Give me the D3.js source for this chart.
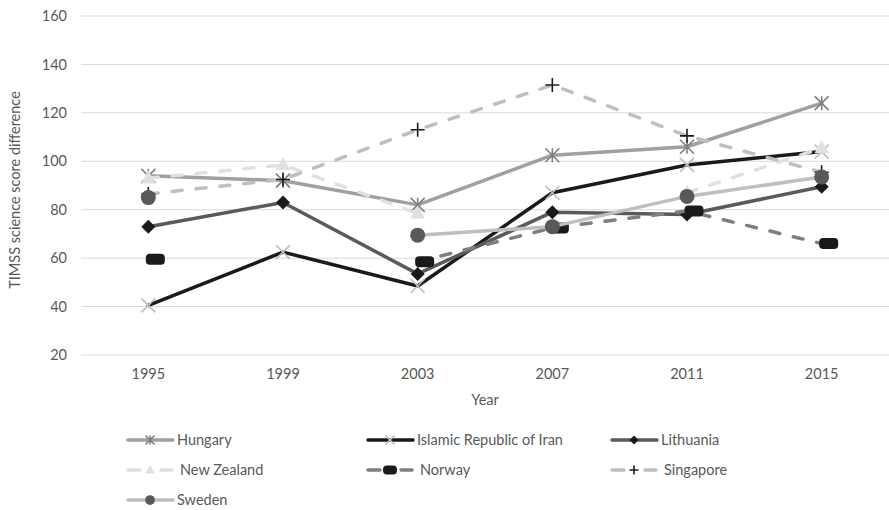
<!DOCTYPE html>
<html><head><meta charset="utf-8">
<script src="https://cdn.jsdelivr.net/npm/d3@7"></script>
<style>body{margin:0;background:#fff;} text{font-family:Lato,sans-serif;}</style>
</head><body>
<svg id="c" width="889" height="510"></svg>
<script>
const years = ["1995","1999","2003","2007","2011","2015"];
const yTicks = [20,40,60,80,100,120,140,160];
const hungary   = [94, 92, 82, 102.5, 106, 124];
const iran      = [40.5, 62.5, 48.5, 87, 98.5, 104];
const lithuania = [73, 83, 53.5, 79, 78, 89.5];
const newZealand= [93, 98.5, 78.5, null, 87, 105.5];
const norway    = [59.5, null, 58.5, 72.5, 79.5, 66];
const singapore = [86.5, 92.5, 113, 131.5, 110.5, 95.5];
const sweden    = [85, null, 69.5, 73, 85.5, 93.5];
const seriesNames = ["Hungary","Islamic Republic of Iran","Lithuania","New Zealand","Norway","Singapore","Sweden"];
const seriesValues = [hungary, iran, lithuania, newZealand, norway, singapore, sweden];

const FONT = "Lato,sans-serif";
const FS = 14.5;
const TC = "#595959";
const styles = [
  {line:"#a0a0a0", dash:null, marker:"star", mc:"#7f7f7f"},
  {line:"#1a1a1a", dash:null, marker:"x", mc:"#bfbfbf"},
  {line:"#5a5a5a", dash:null, marker:"diamond", mc:"#1a1a1a"},
  {line:"#e0e0e0", dash:"10,14", marker:"triangle", mc:"#e0e0e0"},
  {line:"#7f7f7f", dash:"10,14", marker:"rect", mc:"#1a1a1a"},
  {line:"#bfbfbf", dash:"10,14", marker:"plus", mc:"#1a1a1a"},
  {line:"#bfbfbf", dash:null, marker:"circle", mc:"#595959"}
];

const svg = d3.select("#c");
const x = d3.scaleBand().domain(years).range([81, 889]);
const cx = d => x(d) + x.bandwidth()/2;
const y = d3.scaleLinear().domain([20,160]).range([355,16]);

svg.append("g").selectAll("line").data(yTicks).join("line")
  .attr("x1",81).attr("x2",889).attr("y1",d=>y(d)).attr("y2",d=>y(d))
  .attr("stroke","#d9d9d9").attr("stroke-width",1);

const yAxis = d3.axisLeft(y).tickValues(yTicks).tickSize(0).tickPadding(14);
const gy = svg.append("g").attr("transform","translate(81,0)").call(yAxis);
gy.select(".domain").remove();
gy.selectAll("text").attr("font-size",FS).attr("fill",TC).style("font-family",FONT);

const xAxis = d3.axisBottom(x).tickSize(0).tickPadding(14);
const gx = svg.append("g").attr("transform","translate(0,355)").call(xAxis);
gx.select(".domain").remove();
gx.selectAll("text").attr("font-size",FS).attr("fill",TC).style("font-family",FONT);

svg.append("text").attr("x",485).attr("y",405).attr("text-anchor","middle")
  .attr("font-size",FS).attr("fill",TC).text("Year");
svg.append("text").attr("transform","translate(20,190) rotate(-90)").attr("text-anchor","middle")
  .attr("font-size",FS).attr("fill",TC).text("TIMSS science score difference");

function drawMarker(g, type, mc, px, py, s) {
  s = s || 1;
  if (type === "star") {
    const r = 7*s;
    g.append("path").attr("d",`M${px-r},${py-r}L${px+r},${py+r}M${px-r},${py+r}L${px+r},${py-r}M${px},${py-r}L${px},${py+r}`)
      .attr("stroke",mc).attr("stroke-width",1.6).attr("fill","none");
  } else if (type === "x") {
    const r = 7*s;
    g.append("path").attr("d",`M${px-r},${py-r}L${px+r},${py+r}M${px-r},${py+r}L${px+r},${py-r}`)
      .attr("stroke",mc).attr("stroke-width",1.6).attr("fill","none");
  } else if (type === "diamond") {
    const r = 7*s;
    g.append("path").attr("d",`M${px},${py-r}L${px+r},${py}L${px},${py+r}L${px-r},${py}Z`).attr("fill",mc);
  } else if (type === "triangle") {
    const r = 8*s;
    g.append("path").attr("d",`M${px},${py-r}L${px+r*0.9},${py+r*0.65}L${px-r*0.9},${py+r*0.65}Z`).attr("fill",mc);
  } else if (type === "rect") {
    const w = 19*s, h = 11*s;
    g.append("rect").attr("x",px+7*s-w/2).attr("y",py-h/2).attr("width",w).attr("height",h)
      .attr("rx",4*s).attr("fill",mc);
  } else if (type === "plus") {
    const r = 7*s;
    g.append("path").attr("d",`M${px-r},${py}L${px+r},${py}M${px},${py-r}L${px},${py+r}`)
      .attr("stroke",mc).attr("stroke-width",1.6).attr("fill","none");
  } else if (type === "circle") {
    g.append("circle").attr("cx",px).attr("cy",py).attr("r",7.5*s).attr("fill",mc);
  }
}

const line = d3.line().defined(d=>d.v!==null).x(d=>cx(d.year)).y(d=>y(d.v));

seriesValues.forEach((vals,i)=>{
  const st = styles[i];
  const data = years.map((yr,j)=>({year:yr, v:vals[j]}));
  const g = svg.append("g");
  g.append("path").datum(data).attr("d",line).attr("fill","none")
    .attr("stroke",st.line).attr("stroke-width",3.5)
    .attr("stroke-linecap","round").attr("stroke-linejoin","round")
    .attr("stroke-dasharray",st.dash);
  data.filter(d=>d.v!==null).forEach(d=>drawMarker(g, st.marker, st.mc, cx(d.year), y(d.v), 1));
});

const legCols = [128, 368, 612];
const legRows = [440, 470, 500];
seriesNames.forEach((name,i)=>{
  const col = i % 3, row = Math.floor(i/3);
  const lx = legCols[col], ly = legRows[row];
  const st = styles[i];
  const g = svg.append("g");
  if (st.dash) {
    g.append("line").attr("x1",lx).attr("x2",lx+12).attr("y1",ly).attr("y2",ly)
      .attr("stroke",st.line).attr("stroke-width",3.5).attr("stroke-linecap","round");
    g.append("line").attr("x1",lx+33).attr("x2",lx+44).attr("y1",ly).attr("y2",ly)
      .attr("stroke",st.line).attr("stroke-width",3.5).attr("stroke-linecap","round");
  } else {
    g.append("line").attr("x1",lx).attr("x2",lx+45).attr("y1",ly).attr("y2",ly)
      .attr("stroke",st.line).attr("stroke-width",3.5).attr("stroke-linecap","round");
  }
  if (st.marker === "rect") {
    g.append("rect").attr("x",lx+22-7).attr("y",ly-4.5).attr("width",14).attr("height",9).attr("rx",4).attr("fill",st.mc);
  } else {
    drawMarker(g, st.marker, st.mc, lx+22, ly, 0.65);
  }
  g.append("text").attr("x",lx+(st.dash?52:49)).attr("y",ly).attr("dy","0.35em")
    .attr("font-size",FS).attr("fill",TC).text(name);
});
</script>
</body></html>
